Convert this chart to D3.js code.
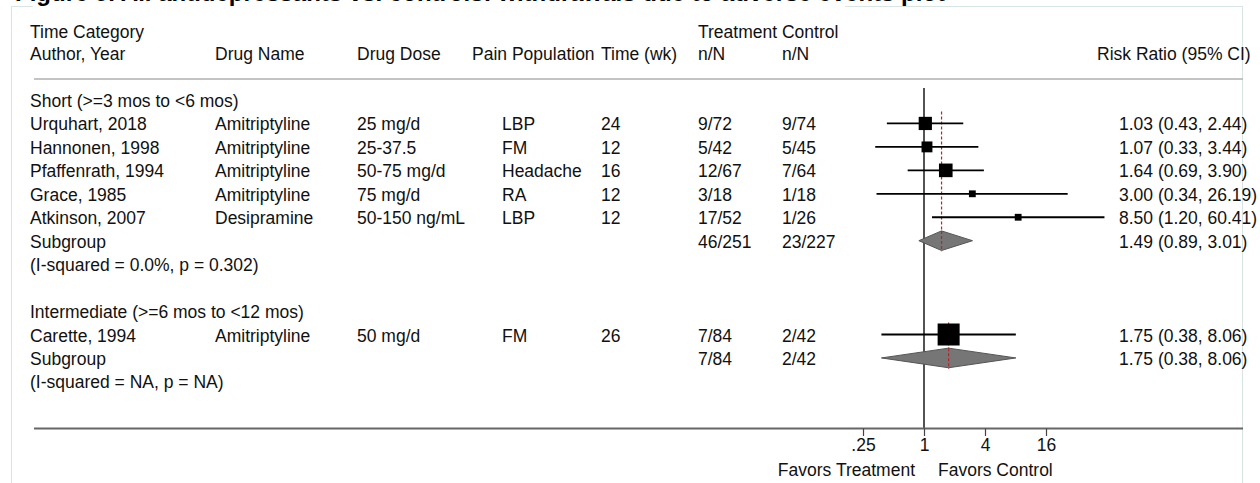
<!DOCTYPE html>
<html>
<head>
<meta charset="utf-8">
<script src="https://cdn.jsdelivr.net/npm/d3@7"></script>
<style>
  html, body { margin: 0; padding: 0; background: #fff; }
  svg { display: block; }
  text { font-family: "Liberation Sans", Arial, Helvetica, sans-serif; fill: #111; }
</style>
</head>
<body>
<svg id="chart" width="1260" height="483"></svg>
<script>
// ---- data -------------------------------------------------------------
const titleText = "Figure 9. All antidepressants vs. controls: withdrawals due to adverse events plot";

const headerTop = ["Time Category", "Treatment Control"];
const headerCols = ["Author, Year", "Drug Name", "Drug Dose", "Pain Population", "Time (wk)", "n/N", "n/N", "Risk Ratio (95% CI)"];

const groupNames = ["Short (>=3 mos to <6 mos)", "Intermediate (>=6 mos to <12 mos)"];
const groupHetero = ["(I-squared = 0.0%, p = 0.302)", "(I-squared = NA, p = NA)"];
const groupTreat = ["46/251", "7/84"];
const groupControl = ["23/227", "2/42"];
const groupRR = [1.49, 1.75];
const groupLo = [0.89, 0.38];
const groupHi = [3.01, 8.06];

const studyGroup = [0, 0, 0, 0, 0, 1];
const authors = ["Urquhart, 2018", "Hannonen, 1998", "Pfaffenrath, 1994", "Grace, 1985", "Atkinson, 2007", "Carette, 1994"];
const drugs = ["Amitriptyline", "Amitriptyline", "Amitriptyline", "Amitriptyline", "Desipramine", "Amitriptyline"];
const doses = ["25 mg/d", "25-37.5", "50-75 mg/d", "75 mg/d", "50-150 ng/mL", "50 mg/d"];
const populations = ["LBP", "FM", "Headache", "RA", "LBP", "FM"];
const weeks = ["24", "12", "16", "12", "12", "26"];
const treatNN = ["9/72", "5/42", "12/67", "3/18", "17/52", "7/84"];
const controlNN = ["9/74", "5/45", "7/64", "1/18", "1/26", "2/42"];
const rr = [1.03, 1.07, 1.64, 3.00, 8.50, 1.75];
const lo = [0.43, 0.33, 0.69, 0.34, 1.20, 0.38];
const hi = [2.44, 3.44, 3.90, 26.19, 60.41, 8.06];
const weights = [17, 11.5, 18, 4.5, 4.5, 47];

const axisTicks = [0.25, 1, 4, 16];
const axisTickLabels = [".25", "1", "4", "16"];
const favorLabels = ["Favors Treatment", "Favors Control"];

// ---- layout -----------------------------------------------------------
const svg = d3.select("#chart");
const FS = 17.5;
const colX = { author: 30, drug: 215, dose: 357, popHead: 472, pop: 502, time: 601, treat: 698, control: 782, rr: 1119, rrHead: 1097 };
const rowY0 = 100, rowH = 23.45;
const lineLeft = 34, lineRight = 1243;
const axisY = 428.5;

// forest scale: log base 2
const x = d3.scaleLog().base(2).domain([0.25, 16]).range([863, 1046]);
const boxSize = d3.scaleSqrt().domain([0, d3.max(weights)]).range([0, 22]);

// build row list
const rows = [];
groupNames.forEach((g, gi) => {
  rows.push({ type: "group", g: gi });
  studyGroup.forEach((sg, si) => { if (sg === gi) rows.push({ type: "study", s: si }); });
  rows.push({ type: "subgroup", g: gi });
  rows.push({ type: "hetero", g: gi });
  rows.push({ type: "blank" });
});
rows.forEach((r, i) => r.y = rowY0 + i * rowH);

// ---- frame and title --------------------------------------------------
const frameCol = "#d9e5e5";
svg.append("line").attr("x1", 11.5).attr("x2", 11.5).attr("y1", 6).attr("y2", 483).attr("stroke", frameCol);
svg.append("line").attr("x1", 1242.5).attr("x2", 1242.5).attr("y1", 6).attr("y2", 483).attr("stroke", frameCol);
svg.append("line").attr("x1", 11.5).attr("x2", 1242.5).attr("y1", 6.5).attr("y2", 6.5).attr("stroke", frameCol);
svg.append("rect").attr("x", 33).attr("y", 0).attr("width", 812).attr("height", 9).attr("fill", "#fff");

svg.append("text").attr("x", 15).attr("y", 1)
  .style("font-size", "24px").style("font-weight", "bold").style("fill", "#000")
  .text(titleText);

// ---- header -----------------------------------------------------------
const txt = (xp, yp, s, anchor = "start") =>
  svg.append("text").attr("x", xp).attr("y", yp).attr("dy", "0.4em")
    .attr("text-anchor", anchor).style("font-size", FS + "px").text(s);

txt(colX.author, 31, headerTop[0]);
txt(colX.treat, 31, headerTop[1]);
const hx = [colX.author, colX.drug, colX.dose, colX.popHead, colX.time, colX.treat, colX.control, colX.rrHead];
headerCols.forEach((h, i) => txt(hx[i], 53, h));

svg.append("line").attr("x1", lineLeft).attr("x2", lineRight).attr("y1", 79).attr("y2", 79)
  .attr("stroke", "#b0b0b0").attr("stroke-width", 1.5);

// ---- table text -------------------------------------------------------
const fmtCI = (e, l, h) => `${e.toFixed(2)} (${l.toFixed(2)}, ${h.toFixed(2)})`;
rows.forEach(r => {
  if (r.type === "group") txt(colX.author, r.y, groupNames[r.g]);
  if (r.type === "study") {
    const s = r.s;
    txt(colX.author, r.y, authors[s]);
    txt(colX.drug, r.y, drugs[s]);
    txt(colX.dose, r.y, doses[s]);
    txt(colX.pop, r.y, populations[s]);
    txt(colX.time, r.y, weeks[s]);
    txt(colX.treat, r.y, treatNN[s]);
    txt(colX.control, r.y, controlNN[s]);
    txt(colX.rr, r.y, fmtCI(rr[s], lo[s], hi[s]));
  }
  if (r.type === "subgroup") {
    const g = r.g;
    txt(colX.author, r.y, "Subgroup");
    txt(colX.treat, r.y, groupTreat[g]);
    txt(colX.control, r.y, groupControl[g]);
    txt(colX.rr, r.y, fmtCI(groupRR[g], groupLo[g], groupHi[g]));
  }
  if (r.type === "hetero") txt(colX.author, r.y, groupHetero[r.g]);
});

// ---- forest marks -----------------------------------------------------
const plot = svg.append("g");
// null line at RR = 1
plot.append("line").attr("x1", x(1)).attr("x2", x(1)).attr("y1", 88).attr("y2", axisY)
  .attr("stroke", "#1a1a1a").attr("stroke-width", 1.5);

const dashCol = "#b5262b";
const dashStyle = sel => sel.attr("stroke", dashCol).attr("stroke-width", 1.2).attr("stroke-dasharray", "3,2");
// subgroup pooled-estimate reference lines
groupNames.forEach((g, gi) => {
  const sRows = rows.filter(r => r.type === "study" && studyGroup[r.s] === gi);
  const subRow = rows.find(r => r.type === "subgroup" && r.g === gi);
  plot.append("line").attr("x1", x(groupRR[gi])).attr("x2", x(groupRR[gi]))
    .attr("y1", sRows[0].y - 12).attr("y2", subRow.y + 10.5).call(dashStyle);
});

const studyRows = rows.filter(r => r.type === "study");
plot.selectAll("line.ci").data(studyRows).join("line").attr("class", "ci")
  .attr("x1", r => x(lo[r.s])).attr("x2", r => x(hi[r.s]))
  .attr("y1", r => r.y).attr("y2", r => r.y)
  .attr("stroke", "#000").attr("stroke-width", 1.8);
plot.selectAll("rect.box").data(studyRows).join("rect").attr("class", "box")
  .attr("x", r => x(rr[r.s]) - boxSize(weights[r.s]) / 2)
  .attr("y", r => r.y - boxSize(weights[r.s]) / 2)
  .attr("width", r => boxSize(weights[r.s]))
  .attr("height", r => boxSize(weights[r.s]))
  .attr("fill", "#000");

const subRows = rows.filter(r => r.type === "subgroup");
plot.selectAll("path.diamond").data(subRows).join("path").attr("class", "diamond")
  .attr("d", r => {
    const g = r.g, h = 9.8;
    return `M${x(groupLo[g])},${r.y} L${x(groupRR[g])},${r.y - h} L${x(groupHi[g])},${r.y} L${x(groupRR[g])},${r.y + h} Z`;
  })
  .attr("fill", "#767676").attr("stroke", "#555").attr("stroke-width", 1);

// dashed line also shows through the diamonds
subRows.forEach(r => {
  plot.append("line").attr("x1", x(groupRR[r.g])).attr("x2", x(groupRR[r.g]))
    .attr("y1", r.y - 9.8).attr("y2", r.y + 10.5).call(dashStyle);
});

// ---- axis -------------------------------------------------------------
svg.append("line").attr("x1", lineLeft).attr("x2", lineRight).attr("y1", axisY).attr("y2", axisY)
  .attr("stroke", "#666").attr("stroke-width", 2);

const axis = svg.append("g").attr("transform", `translate(0,${axisY})`)
  .call(d3.axisBottom(x).tickValues(axisTicks).tickSize(7.5).tickPadding(3)
    .tickFormat((d, i) => axisTickLabels[i]));
axis.select(".domain").remove();
axis.selectAll(".tick line").attr("stroke", "#444").attr("stroke-width", 1.2);
axis.selectAll(".tick text").style("font-size", FS + "px")
  .style("font-family", "'Liberation Sans', Arial, sans-serif").attr("fill", "#111");

svg.append("text").attr("x", x(1) - 9).attr("y", 469).attr("dy", "0.4em").attr("text-anchor", "end")
  .style("font-size", FS + "px").text(favorLabels[0]);
svg.append("text").attr("x", x(1) + 14).attr("y", 469).attr("dy", "0.4em")
  .style("font-size", FS + "px").text(favorLabels[1]);
</script>
</body>
</html>
